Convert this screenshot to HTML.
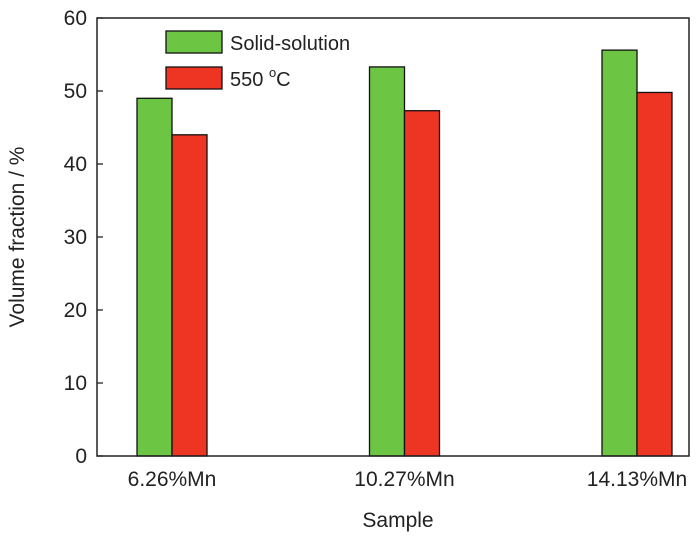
<!DOCTYPE html>
<html><head><meta charset="utf-8"><style>
body{margin:0;background:#fff;}
svg{display:block;font-family:"Liberation Sans",Arial,sans-serif;}
</style></head><body>
<svg id="chart" width="700" height="541" viewBox="0 0 700 541">
<g id="bars"></g>
<rect x="97" y="18" width="592" height="438" fill="none" stroke="#222" stroke-width="1.5"/>
<g id="yticks"></g>
<g id="xticks"></g>
<text x="398" y="527" font-size="21" text-anchor="middle" fill="#222">Sample</text>
<text transform="translate(24,237) rotate(-90)" font-size="21" text-anchor="middle" fill="#222">Volume fraction / %</text>
<g>
<rect x="166" y="31" width="56" height="22" fill="#6cc644" stroke="#111" stroke-width="1.3"/>
<text x="230" y="50" font-size="20" fill="#222">Solid-solution</text>
<rect x="166" y="67" width="56" height="22" fill="#ee3524" stroke="#111" stroke-width="1.3"/>
<text x="230" y="86" font-size="20" fill="#222">550 <tspan font-size="13" dy="-9">o</tspan><tspan dy="9">C</tspan></text>
</g>
</svg>
<script>
const categories = ["6.26%Mn", "10.27%Mn", "14.13%Mn"];
const solidSolution = [49, 53.3, 55.6];
const temper550 = [44, 47.3, 49.8];
const yTicks = [0, 10, 20, 30, 40, 50, 60];

const NS = "http://www.w3.org/2000/svg";
const y = v => 456 - v * 7.3;
const x = i => 172 + i * 232.5;
const barW = 35;
function mk(tag, attrs, parent) {
  const el = document.createElementNS(NS, tag);
  for (const k in attrs) el.setAttribute(k, attrs[k]);
  parent.appendChild(el);
  return el;
}
const bars = document.getElementById("bars");
categories.forEach((c, i) => {
  const g = mk("rect", {x: x(i) - barW, y: y(solidSolution[i]), width: barW, height: y(0) - y(solidSolution[i]), fill: "#6cc644", stroke: "#111", "stroke-width": 1.3}, bars);
  
  
  const r = mk("rect", {x: x(i), y: y(temper550[i]), width: barW, height: y(0) - y(temper550[i]), fill: "#ee3524", stroke: "#111", "stroke-width": 1.3}, bars);
  
  
  const t = mk("text", {x: x(i), y: 486, "font-size": 21, "text-anchor": "middle", fill: "#222"}, document.getElementById("xticks"));
  t.textContent = c;
  
  
});
const yt = document.getElementById("yticks");
yTicks.forEach(v => {
  const l = mk("line", {x1: 97, x2: 103, y1: y(v), y2: y(v), stroke: "#222", "stroke-width": 1.3}, yt);
  
  
  const t = mk("text", {x: 87, y: y(v) + 7, "font-size": 21, "text-anchor": "end", fill: "#222"}, yt);
  t.textContent = v;
  
  
});
</script>
</body></html>
